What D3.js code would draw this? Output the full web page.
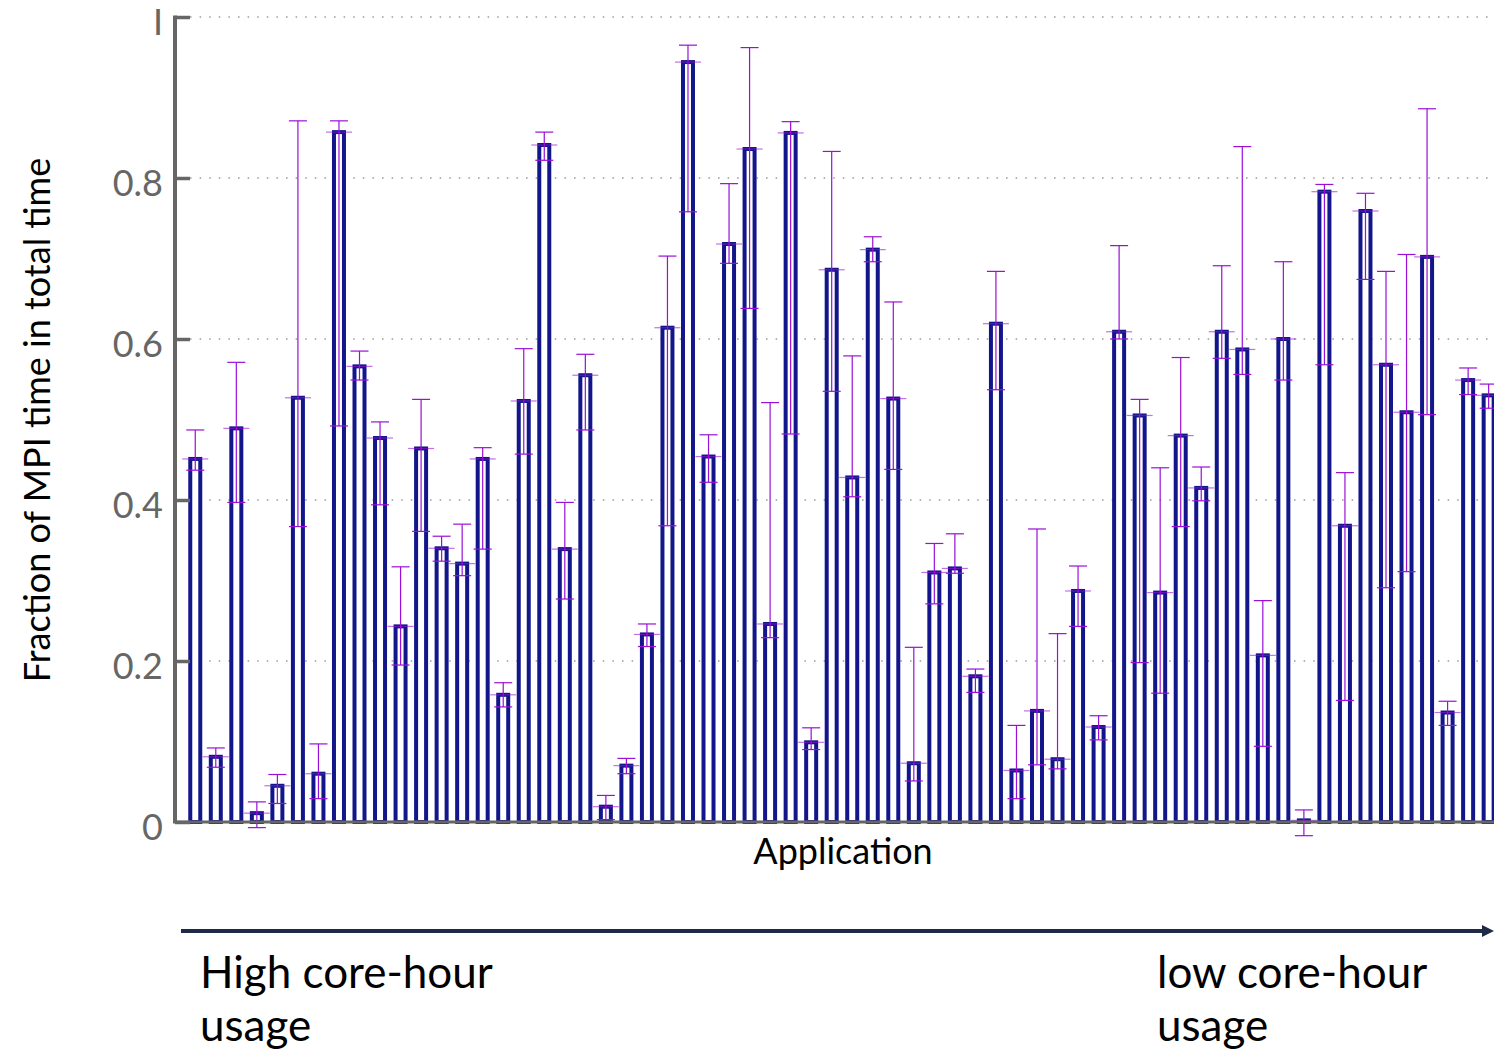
<!DOCTYPE html>
<html>
<head>
<meta charset="utf-8">
<script src="https://cdn.jsdelivr.net/npm/d3@7"></script>
<style>
  html, body { margin: 0; padding: 0; background: #fff; overflow: hidden; }
  text { font-family: Lato, "Open Sans", sans-serif; }
</style>
</head>
<body>
<div id="chart"></div>
<script>
// fraction of MPI time per application (ordered by core-hour usage)
const values = [0.451, 0.081, 0.489, 0.011, 0.045, 0.527, 0.060, 0.857, 0.566, 0.477,
  0.243, 0.464, 0.340, 0.321, 0.451, 0.158, 0.523, 0.841, 0.339, 0.555,
  0.019, 0.070, 0.233, 0.614, 0.944, 0.454, 0.718, 0.836, 0.246, 0.856,
  0.099, 0.686, 0.428, 0.711, 0.526, 0.073, 0.310, 0.315, 0.181, 0.619,
  0.064, 0.138, 0.078, 0.287, 0.118, 0.609, 0.505, 0.285, 0.480, 0.415,
  0.609, 0.587, 0.207, 0.600, 0.002, 0.783, 0.368, 0.759, 0.568, 0.509,
  0.702, 0.136, 0.549, 0.530];
const upper = [0.487, 0.092, 0.571, 0.025, 0.059, 0.871, 0.097, 0.871, 0.585, 0.497,
  0.317, 0.525, 0.355, 0.370, 0.465, 0.173, 0.588, 0.857, 0.397, 0.581,
  0.033, 0.079, 0.246, 0.703, 0.965, 0.481, 0.793, 0.962, 0.521, 0.870,
  0.117, 0.833, 0.579, 0.727, 0.646, 0.217, 0.346, 0.358, 0.190, 0.684,
  0.120, 0.364, 0.234, 0.318, 0.132, 0.716, 0.525, 0.440, 0.577, 0.441,
  0.691, 0.839, 0.275, 0.696, 0.015, 0.792, 0.434, 0.781, 0.684, 0.705,
  0.886, 0.150, 0.564, 0.544];
const lower = [0.437, 0.068, 0.397, -0.007, 0.023, 0.367, 0.029, 0.492, 0.549, 0.394,
  0.195, 0.361, 0.324, 0.306, 0.339, 0.143, 0.457, 0.822, 0.277, 0.487,
  0.003, 0.060, 0.218, 0.368, 0.758, 0.422, 0.694, 0.638, 0.229, 0.482,
  0.090, 0.535, 0.404, 0.696, 0.438, 0.051, 0.271, 0.309, 0.161, 0.537,
  0.029, 0.071, 0.066, 0.243, 0.102, 0.600, 0.198, 0.160, 0.367, 0.399,
  0.576, 0.556, 0.094, 0.549, -0.017, 0.568, 0.151, 0.674, 0.291, 0.311,
  0.506, 0.120, 0.531, 0.514];
const apps = values.map((d, i) => "app" + (i + 1));
const yTicks = [0, 0.2, 0.4, 0.6, 0.8, 1];
const yTickLabels = ["0", "0.2", "0.4", "0.6", "0.8", "I"];

const width = 1494, height = 1051;
const svg = d3.select("#chart").append("svg")
    .attr("width", width)
    .attr("height", height);

const x = d3.scaleBand()
    .domain(apps)
    .range([185, 185 + apps.length * 20.53])
    .padding(0);
const y = d3.scaleLinear().domain([0, 1]).range([822, 17]);

const data = apps.map((a, i) => ({app: a, v: values[i], lo: lower[i], hi: upper[i]}));

// dotted grid
svg.append("g")
  .selectAll("line")
  .data(yTicks.slice(1))
  .join("line")
    .attr("x1", 190).attr("x2", width)
    .attr("y1", d => y(d)).attr("y2", d => y(d))
    .attr("stroke", "#999")
    .attr("stroke-width", 1.3)
    .attr("stroke-dasharray", "1.5,8.1");

// bars
const cx = d => x(d.app) + x.bandwidth() / 2;
svg.append("g")
  .selectAll("rect")
  .data(data)
  .join("rect")
    .attr("x", d => cx(d) - 5)
    .attr("width", 10)
    .attr("y", d => y(d.v))
    .attr("height", d => y(0) - y(d.v))
    .attr("fill", "#fff")
    .attr("stroke", "#12168a")
    .attr("stroke-width", 4);

// error bars
const err = svg.append("g")
    .attr("stroke", "#9a10d6")
    .attr("stroke-width", 1.2)
  .selectAll("g")
  .data(data)
  .join("g");
err.append("line")
    .attr("x1", cx).attr("x2", cx)
    .attr("y1", d => y(d.hi)).attr("y2", d => y(d.lo));
err.append("line")
    .attr("x1", d => cx(d) - 9).attr("x2", d => cx(d) + 9)
    .attr("y1", d => y(d.hi)).attr("y2", d => y(d.hi));
err.append("line")
    .attr("x1", d => cx(d) - 9).attr("x2", d => cx(d) + 9)
    .attr("y1", d => y(d.lo)).attr("y2", d => y(d.lo));
err.append("line")
    .attr("stroke-opacity", 0.6)
    .attr("x1", d => cx(d) - 13).attr("x2", d => cx(d) + 13)
    .attr("y1", d => y(d.v)).attr("y2", d => y(d.v));

// axes
const axis = svg.append("g")
    .attr("transform", "translate(175,0)")
    .call(d3.axisRight(y).tickValues(yTicks).tickSize(15).tickFormat(""));
axis.select(".domain").remove();
axis.selectAll(".tick line").attr("stroke", "#666").attr("stroke-width", 3.5);
svg.append("line")
    .attr("x1", 175).attr("x2", 175)
    .attr("y1", y(1) - 1.5).attr("y2", y(0) + 1.5)
    .attr("stroke", "#666").attr("stroke-width", 4);
svg.append("line")
    .attr("x1", 175).attr("x2", width)
    .attr("y1", y(0)).attr("y2", y(0))
    .attr("stroke", "#666").attr("stroke-width", 3);

svg.append("g")
  .selectAll("text")
  .data(yTicks)
  .join("text")
    .attr("x", 163)
    .attr("y", d => y(d) + 18)
    .attr("text-anchor", "end")
    .attr("fill", "#666")
    .style("font-size", "36px")
    .text((d, i) => yTickLabels[i]);

svg.append("text")
    .attr("transform", "translate(50,420) rotate(-90)")
    .attr("text-anchor", "middle")
    .attr("fill", "#000")
    .style("font-size", "36px")
    .text("Fraction of MPI time in total time");

svg.append("text")
    .attr("x", 843).attr("y", 864)
    .attr("text-anchor", "middle")
    .style("font-size", "36px")
    .text("Application");

// core-hour arrow
svg.append("defs").append("marker")
    .attr("id", "arrow")
    .attr("viewBox", "0 0 10 10")
    .attr("refX", 5).attr("refY", 5)
    .attr("markerWidth", 3).attr("markerHeight", 3)
    .attr("orient", "auto")
  .append("path")
    .attr("d", "M0,0L10,5L0,10z")
    .attr("fill", "#1f2a48");
svg.append("line")
    .attr("x1", 181).attr("x2", 1488)
    .attr("y1", 931).attr("y2", 931)
    .attr("stroke", "#1f2a48")
    .attr("stroke-width", 4)
    .attr("marker-end", "url(#arrow)");

const notes = [
  {x: 200, lines: ["High core-hour", "usage"]},
  {x: 1157, lines: ["low core-hour", "usage"]}
];
notes.forEach(n => {
  n.lines.forEach((t, i) => {
    svg.append("text")
        .attr("x", n.x).attr("y", 988 + i * 53)
        .style("font-size", "44px")
        .text(t);
  });
});
</script>
</body>
</html>
